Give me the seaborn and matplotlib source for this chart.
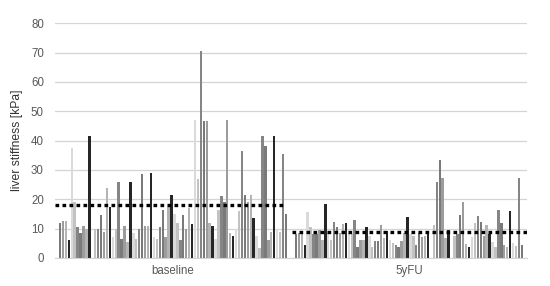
import matplotlib
matplotlib.use('Agg')
import matplotlib.pyplot as plt
import seaborn as sns
import numpy as np
import pandas as pd

TIMEPOINTS = ["baseline", "5yFU"]

# liver stiffness per patient [kPa], read left to right
BASELINE = [
    12, 12.5, 12.5, 6, 37.5, 19, 10.5, 8.5, 11, 10,
    41.5, 0, 10, 10, 14.5, 9, 24, 17.5, 7, 10,
    26, 6.5, 11, 5.5, 26, 8.5, 6.5, 10, 28.5, 11,
    11, 29, 7, 6.5, 10.5, 16.5, 7, 17.5, 21.5, 15,
    12, 6, 14.5, 10, 17, 11.5, 47, 27, 70.5, 46.5,
    46.5, 12, 11, 6.5, 16.5, 21, 19, 47, 8.5, 7.5,
    10, 16, 36.5, 21.5, 19, 21.5, 13.5, 7.5, 3.5, 41.5,
    38, 6, 9, 41.5, 10, 9, 35.5, 15,
]
FOLLOWUP = [
    8, 8.5, 8.5, 4.3, 15.5, 10.5, 8, 8, 9.5, 6.2,
    18.4, 8.5, 6.2, 12.2, 10.6, 8.5, 11.5, 12, 8.5, 8,
    13, 3.6, 6, 6, 10.6, 7.5, 3.9, 5.7, 5.7, 11.3,
    6.9, 9.2, 6.2, 5.1, 4.5, 3.6, 5.9, 8.5, 13.8, 8,
    7.5, 4.5, 8.5, 7, 7.5, 8, 0, 11.2, 26, 33.3,
    27.2, 6.9, 9.6, 0, 7.5, 8, 14.5, 19.2, 4.8, 3.7,
    7, 12, 14.3, 12.2, 7.5, 11.3, 8, 5.6, 3.7, 16.3,
    12, 4.3, 3.6, 16, 5.1, 4, 27.2, 4.3,
]
# group means shown as dotted lines
MEANS = [17.9, 8.9]

GRAYS = ['#7a7a7a', '#9c9c9c', '#b4b4b4', '#262626',
         '#dadada', '#c2c2c2', '#858585']

n_pat = len(BASELINE)
df = pd.DataFrame({
    "patient": np.tile(np.arange(n_pat), 2),
    "timepoint": np.repeat(TIMEPOINTS, n_pat),
    "value": BASELINE + FOLLOWUP,
})
palette = [GRAYS[i % len(GRAYS)] for i in range(n_pat)]

sns.set_style("white")
plt.rcParams['font.family'] = ['Liberation Sans', 'DejaVu Sans']

fig = plt.figure(figsize=(5.5, 2.86), dpi=100)
ax = fig.add_axes([0.1, 0.098, 0.858, 0.821])

sns.barplot(data=df, x="timepoint", y="value", hue="patient",
            palette=palette, width=0.97, gap=0.18, linewidth=0,
            errorbar=None, legend=False, ax=ax, zorder=2)

# dotted mean lines per group
spans = [(-0.5, 0.48), (0.505, 1.5)]
for (x0, x1), m in zip(spans, MEANS):
    ax.plot([x0, x1], [m, m], color='black', lw=2.4,
            linestyle=(0, (1.1, 1.0)), zorder=3, solid_capstyle='butt')

ax.set_xlim(-0.5, 1.5)
ax.set_ylim(0, 80)
ax.set_yticks(range(0, 81, 10))
ax.yaxis.grid(True, color='#d4d4d4', lw=0.9, zorder=0)
ax.set_axisbelow(True)
for s in ['top', 'right', 'left']:
    ax.spines[s].set_visible(False)
ax.spines['bottom'].set_color('#d4d4d4')
ax.tick_params(axis='both', length=0, labelsize=8.3, colors='#595959')
ax.tick_params(axis='y', pad=8)
ax.tick_params(axis='x', pad=5)
ax.set_xlabel("")
ax.set_ylabel("liver stiffness [kPa]", fontsize=8.7, color='#333333', labelpad=6)

fig.savefig("out.png", dpi=100)
